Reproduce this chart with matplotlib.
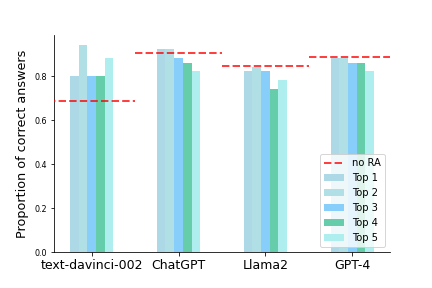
import numpy as np
import matplotlib
matplotlib.use("Agg")
import matplotlib.pyplot as plt

# --- dati ---
models = ["text-davinci-002", "ChatGPT", "Llama2", "GPT-4"]
top1 = [0.80, 0.924, 0.824, 0.882]
top2 = [0.942, 0.924, 0.841, 0.882]
top3 = [0.80, 0.883, 0.824, 0.861]
top4 = [0.80, 0.861, 0.742, 0.861]
top5 = [0.883, 0.824, 0.783, 0.824]
no_ra = [0.685, 0.903, 0.844, 0.885]

series = [top1, top2, top3, top4, top5]
labels = ["Top 1", "Top 2", "Top 3", "Top 4", "Top 5"]
colors = ["lightblue", "powderblue", "lightskyblue", "mediumaquamarine", "paleturquoise"]

fig = plt.figure(figsize=(6, 4), dpi=72)
ax = fig.add_axes([0.1257, 0.124, 0.777, 0.754])

x = np.arange(len(models))
width = 0.1

# linee di riferimento senza RA
for i, v in enumerate(no_ra):
    ax.hlines(v, i - 0.5, i + 0.5, colors="red", linestyles="--", linewidth=2,
              alpha=0.75, label="no RA" if i == 0 else None, zorder=3)

for k, (vals, lab, col) in enumerate(zip(series, labels, colors)):
    ax.bar(x + (k - 2) * width, vals, width, label=lab, color=col)

ax.set_xticks(x)
ax.set_xticklabels(models, fontsize=12.5)
ax.tick_params(axis="y", labelsize=8)
ax.set_ylabel("Proportion of correct answers", fontsize=12.8, labelpad=6)
ax.set_xlim(-0.43, 3.434)
ax.set_ylim(0, 0.986)
ax.spines["top"].set_visible(False)
ax.spines["right"].set_visible(False)
ax.legend(loc="lower right", fontsize=10)

fig.savefig("out.png", dpi=72)
